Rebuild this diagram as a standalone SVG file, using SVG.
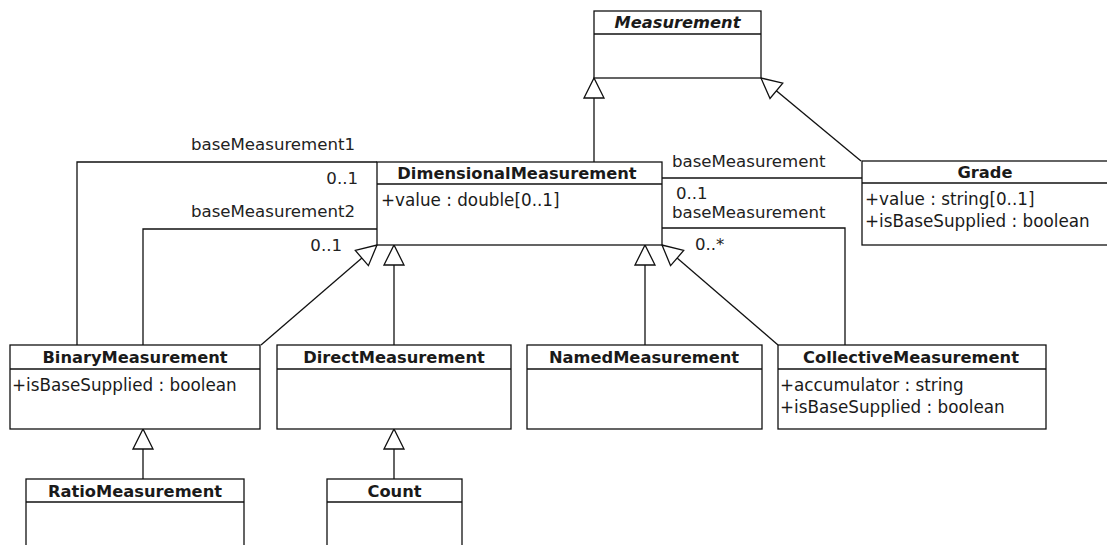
<svg xmlns="http://www.w3.org/2000/svg" width="1107" height="545" viewBox="0 0 1107 545">
  <style>
    .box { fill: #fff; stroke: #111; stroke-width: 1.3; }
    .div { stroke: #111; stroke-width: 1.3; }
    .title { font-family: "DejaVu Sans", sans-serif; font-size: 16.3px; font-weight: bold; fill: #1a1a1a; text-anchor: middle; }
    .abstract { font-style: italic; }
    .attr { font-family: "DejaVu Sans", sans-serif; font-size: 16.8px; fill: #1a1a1a; }
    .lbl { font-family: "DejaVu Sans", sans-serif; font-size: 16.6px; fill: #222; }
    .edge { fill: none; stroke: #111; stroke-width: 1.3; }
    .gen { marker-end: url(#hollow); }
  </style>
  <defs>
    <marker id="hollow" markerUnits="userSpaceOnUse" viewBox="-2 -12 24 24" markerWidth="24" markerHeight="24" refX="20" refY="0" orient="auto">
      <path d="M0,-10 L20,0 L0,10 Z" fill="#fff" stroke="#111" stroke-width="1.3"/>
    </marker>
  </defs>
  <rect width="1107" height="545" fill="#fff"/>

  <!-- connectors -->
  <g id="connectors">
    <!-- associations -->
    <polyline class="edge" points="77,345 77,162 377,162"/>
    <polyline class="edge" points="143,345 143,229 377,229"/>
    <line class="edge" x1="662" y1="178" x2="862" y2="178"/>
    <polyline class="edge" points="662,228 845,228 845,345"/>
    <!-- generalizations -->
    <line class="edge gen" x1="594" y1="162" x2="594" y2="78"/>
    <line class="edge gen" x1="861" y1="161" x2="761" y2="78"/>
    <line class="edge gen" x1="261" y1="345" x2="377" y2="245"/>
    <line class="edge gen" x1="394" y1="345" x2="394" y2="245"/>
    <line class="edge gen" x1="645" y1="345" x2="645" y2="245"/>
    <line class="edge gen" x1="778" y1="345" x2="662" y2="245"/>
    <line class="edge gen" x1="143" y1="479" x2="143" y2="429"/>
    <line class="edge gen" x1="394" y1="479" x2="394" y2="429"/>
    <!-- role names and multiplicities -->
    <text class="lbl" x="191" y="150">baseMeasurement1</text>
    <text class="lbl" x="358" y="184" text-anchor="end">0..1</text>
    <text class="lbl" x="191" y="217">baseMeasurement2</text>
    <text class="lbl" x="342" y="251" text-anchor="end">0..1</text>
    <text class="lbl" x="672" y="167">baseMeasurement</text>
    <text class="lbl" x="676" y="199">0..1</text>
    <text class="lbl" x="672" y="218">baseMeasurement</text>
    <text class="lbl" x="695" y="250">0..*</text>
  </g>

  <g id="Measurement">
    <rect class="box" x="594" y="11" width="167" height="67"/>
    <line class="div" x1="594" y1="34" x2="761" y2="34"/>
    <text class="title abstract" x="677.5" y="28">Measurement</text>
  </g>

  <g id="DimensionalMeasurement">
    <rect class="box" x="377" y="162" width="285" height="83"/>
    <line class="div" x1="377" y1="184" x2="662" y2="184"/>
    <text class="title" x="517" y="179">DimensionalMeasurement</text>
    <text class="attr" x="381" y="206">+value : double[0..1]</text>
  </g>

  <g id="Grade">
    <rect class="box" x="862" y="161" width="247" height="84"/>
    <line class="div" x1="862" y1="183" x2="1109" y2="183"/>
    <text class="title" x="985" y="178">Grade</text>
    <text class="attr" x="865" y="205">+value : string[0..1]</text>
    <text class="attr" x="865" y="227">+isBaseSupplied : boolean</text>
  </g>

  <g id="BinaryMeasurement">
    <rect class="box" x="10" y="345" width="250" height="84"/>
    <line class="div" x1="10" y1="369" x2="260" y2="369"/>
    <text class="title" x="135" y="363">BinaryMeasurement</text>
    <text class="attr" x="12" y="391">+isBaseSupplied : boolean</text>
  </g>

  <g id="DirectMeasurement">
    <rect class="box" x="277" y="345" width="234" height="84"/>
    <line class="div" x1="277" y1="369" x2="511" y2="369"/>
    <text class="title" x="394" y="363">DirectMeasurement</text>
  </g>

  <g id="NamedMeasurement">
    <rect class="box" x="527" y="345" width="235" height="84"/>
    <line class="div" x1="527" y1="369" x2="762" y2="369"/>
    <text class="title" x="644" y="363">NamedMeasurement</text>
  </g>

  <g id="CollectiveMeasurement">
    <rect class="box" x="778" y="345" width="268" height="84"/>
    <line class="div" x1="778" y1="369" x2="1046" y2="369"/>
    <text class="title" x="911" y="363">CollectiveMeasurement</text>
    <text class="attr" x="780" y="391">+accumulator : string</text>
    <text class="attr" x="780" y="413">+isBaseSupplied : boolean</text>
  </g>

  <g id="RatioMeasurement">
    <rect class="box" x="26" y="479" width="218" height="80"/>
    <line class="div" x1="26" y1="502" x2="244" y2="502"/>
    <text class="title" x="135" y="497">RatioMeasurement</text>
  </g>

  <g id="Count">
    <rect class="box" x="327" y="479" width="135" height="80"/>
    <line class="div" x1="327" y1="502" x2="462" y2="502"/>
    <text class="title" x="394.5" y="497">Count</text>
  </g>
</svg>
